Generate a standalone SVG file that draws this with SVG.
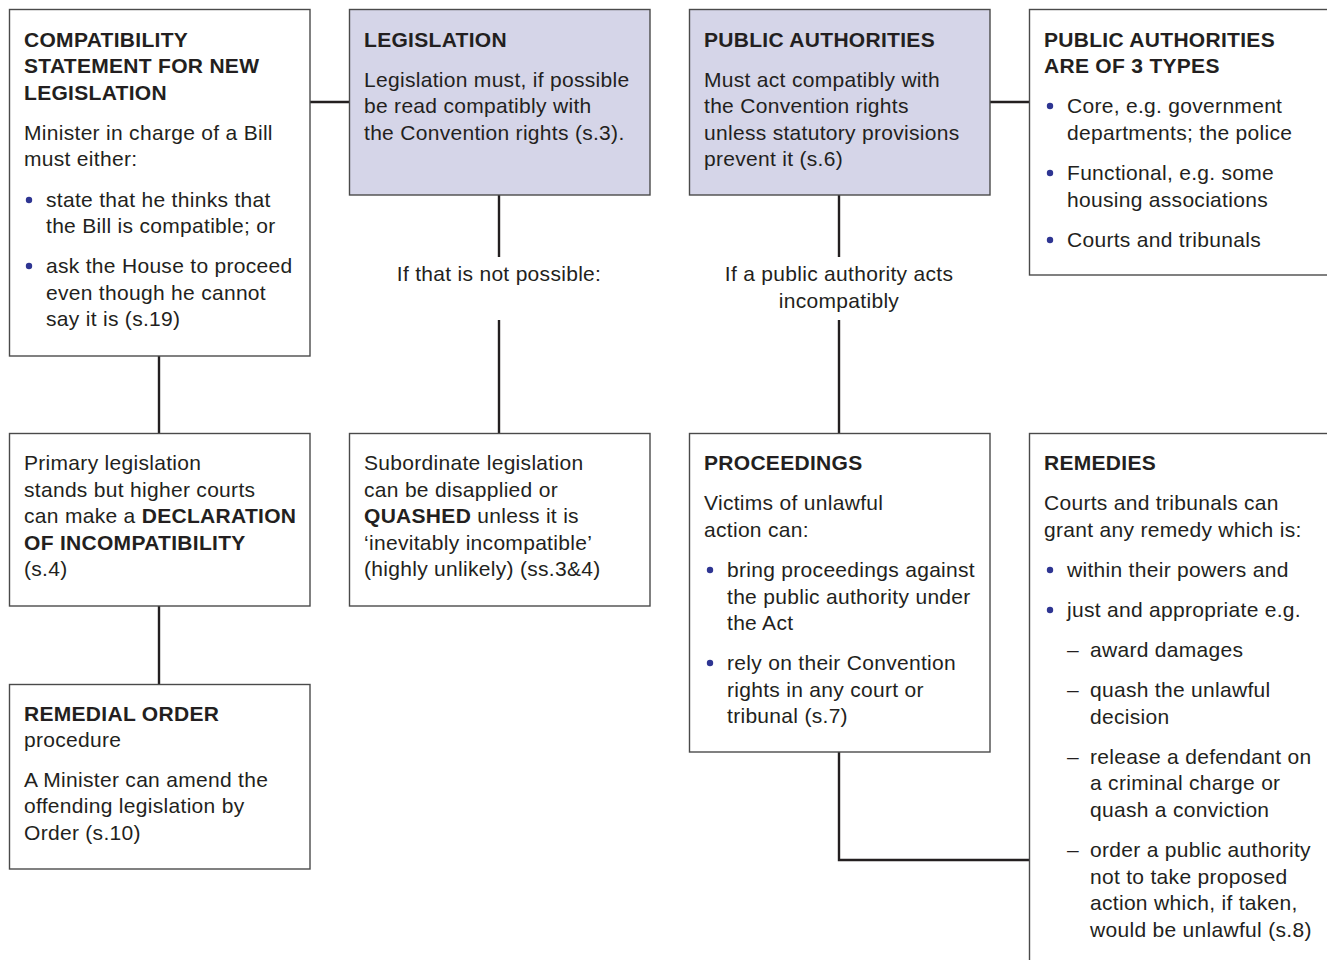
<svg xmlns="http://www.w3.org/2000/svg" width="1327" height="960" viewBox="0 0 1327 960">
<style>
.box{fill:#ffffff;stroke:#4a4a4a;stroke-width:1.4}
.hl{fill:#d5d5e8;stroke:#4a4a4a;stroke-width:1.4}
.con{fill:none;stroke:#231f20;stroke-width:2.4}
text{font-family:"Liberation Sans",Arial,Helvetica,sans-serif;font-size:21px;letter-spacing:0.3px;fill:#231f20}
.b{font-weight:bold}
.mid{text-anchor:middle}
.dot{fill:#2e3592}
</style>
<rect width="1327" height="960" fill="#ffffff"/>
<g id="connectors">
<line class="con" x1="310" y1="102" x2="349" y2="102"/>
<line class="con" x1="990" y1="102" x2="1029" y2="102"/>
<line class="con" x1="159" y1="356" x2="159" y2="433"/>
<line class="con" x1="159" y1="606" x2="159" y2="684"/>
<line class="con" x1="499" y1="195" x2="499" y2="257"/>
<line class="con" x1="499" y1="320" x2="499" y2="433"/>
<line class="con" x1="839" y1="195" x2="839" y2="257"/>
<line class="con" x1="839" y1="320" x2="839" y2="433"/>
<polyline class="con" points="839,752 839,860 1029,860"/>
<text class="mid" x="499" y="281">If that is not possible:</text>
<text class="mid" x="839" y="281">If a public authority acts</text>
<text class="mid" x="839" y="308">incompatibly</text>
</g>
<g id="compatibility">
<rect class="box" x="9.5" y="9.5" width="300.5" height="346.5"/>
<text class="b" x="24" y="47">COMPATIBILITY</text>
<text class="b" x="24" y="73">STATEMENT FOR NEW</text>
<text class="b" x="24" y="100">LEGISLATION</text>
<text x="24" y="140">Minister in charge of a Bill</text>
<text x="24" y="166">must either:</text>
<circle class="dot" cx="29" cy="200" r="3.2"/>
<text x="46" y="207">state that he thinks that</text>
<text x="46" y="233">the Bill is compatible; or</text>
<circle class="dot" cx="29" cy="266" r="3.2"/>
<text x="46" y="273">ask the House to proceed</text>
<text x="46" y="300">even though he cannot</text>
<text x="46" y="326">say it is (s.19)</text>
</g>
<g id="legislation">
<rect class="hl" x="349.5" y="9.5" width="300.5" height="185.5"/>
<text class="b" x="364" y="47">LEGISLATION</text>
<text x="364" y="87">Legislation must, if possible</text>
<text x="364" y="113">be read compatibly with</text>
<text x="364" y="140">the Convention rights (s.3).</text>
</g>
<g id="public-authorities">
<rect class="hl" x="689.5" y="9.5" width="300.5" height="185.5"/>
<text class="b" x="704" y="47">PUBLIC AUTHORITIES</text>
<text x="704" y="87">Must act compatibly with</text>
<text x="704" y="113">the Convention rights</text>
<text x="704" y="140">unless statutory provisions</text>
<text x="704" y="166">prevent it (s.6)</text>
</g>
<g id="types">
<rect class="box" x="1029.5" y="9.5" width="310" height="265.5"/>
<text class="b" x="1044" y="47">PUBLIC AUTHORITIES</text>
<text class="b" x="1044" y="73">ARE OF 3 TYPES</text>
<circle class="dot" cx="1050" cy="106" r="3.2"/>
<text x="1067" y="113">Core, e.g. government</text>
<text x="1067" y="140">departments; the police</text>
<circle class="dot" cx="1050" cy="173" r="3.2"/>
<text x="1067" y="180">Functional, e.g. some</text>
<text x="1067" y="207">housing associations</text>
<circle class="dot" cx="1050" cy="240" r="3.2"/>
<text x="1067" y="247">Courts and tribunals</text>
</g>
<g id="primary">
<rect class="box" x="9.5" y="433.5" width="300.5" height="172.5"/>
<text x="24" y="470">Primary legislation</text>
<text x="24" y="497">stands but higher courts</text>
<text x="24" y="523">can make a <tspan class="b">DECLARATION</tspan></text>
<text class="b" x="24" y="550">OF INCOMPATIBILITY</text>
<text x="24" y="576">(s.4)</text>
</g>
<g id="subordinate">
<rect class="box" x="349.5" y="433.5" width="300.5" height="172.5"/>
<text x="364" y="470">Subordinate legislation</text>
<text x="364" y="497">can be disapplied or</text>
<text x="364" y="523"><tspan class="b">QUASHED</tspan> unless it is</text>
<text x="364" y="550">‘inevitably incompatible’</text>
<text x="364" y="576">(highly unlikely) (ss.3&amp;4)</text>
</g>
<g id="proceedings">
<rect class="box" x="689.5" y="433.5" width="300.5" height="318.5"/>
<text class="b" x="704" y="470">PROCEEDINGS</text>
<text x="704" y="510">Victims of unlawful</text>
<text x="704" y="537">action can:</text>
<circle class="dot" cx="710" cy="570" r="3.2"/>
<text x="727" y="577">bring proceedings against</text>
<text x="727" y="604">the public authority under</text>
<text x="727" y="630">the Act</text>
<circle class="dot" cx="710" cy="663" r="3.2"/>
<text x="727" y="670">rely on their Convention</text>
<text x="727" y="697">rights in any court or</text>
<text x="727" y="723">tribunal (s.7)</text>
</g>
<g id="remedies">
<rect class="box" x="1029.5" y="433.5" width="310" height="540"/>
<text class="b" x="1044" y="470">REMEDIES</text>
<text x="1044" y="510">Courts and tribunals can</text>
<text x="1044" y="537">grant any remedy which is:</text>
<circle class="dot" cx="1050" cy="570" r="3.2"/>
<text x="1067" y="577">within their powers and</text>
<circle class="dot" cx="1050" cy="610" r="3.2"/>
<text x="1067" y="617">just and appropriate e.g.</text>
<text x="1067" y="657">–</text><text x="1090" y="657">award damages</text>
<text x="1067" y="697">–</text><text x="1090" y="697">quash the unlawful</text>
<text x="1090" y="724">decision</text>
<text x="1067" y="764">–</text><text x="1090" y="764">release a defendant on</text>
<text x="1090" y="790">a criminal charge or</text>
<text x="1090" y="817">quash a conviction</text>
<text x="1067" y="857">–</text><text x="1090" y="857">order a public authority</text>
<text x="1090" y="884">not to take proposed</text>
<text x="1090" y="910">action which, if taken,</text>
<text x="1090" y="937">would be unlawful (s.8)</text>
</g>
<g id="remedial-order">
<rect class="box" x="9.5" y="684.5" width="300.5" height="184.5"/>
<text class="b" x="24" y="721">REMEDIAL ORDER</text>
<text x="24" y="747">procedure</text>
<text x="24" y="787">A Minister can amend the</text>
<text x="24" y="813">offending legislation by</text>
<text x="24" y="840">Order (s.10)</text>
</g>
</svg>
